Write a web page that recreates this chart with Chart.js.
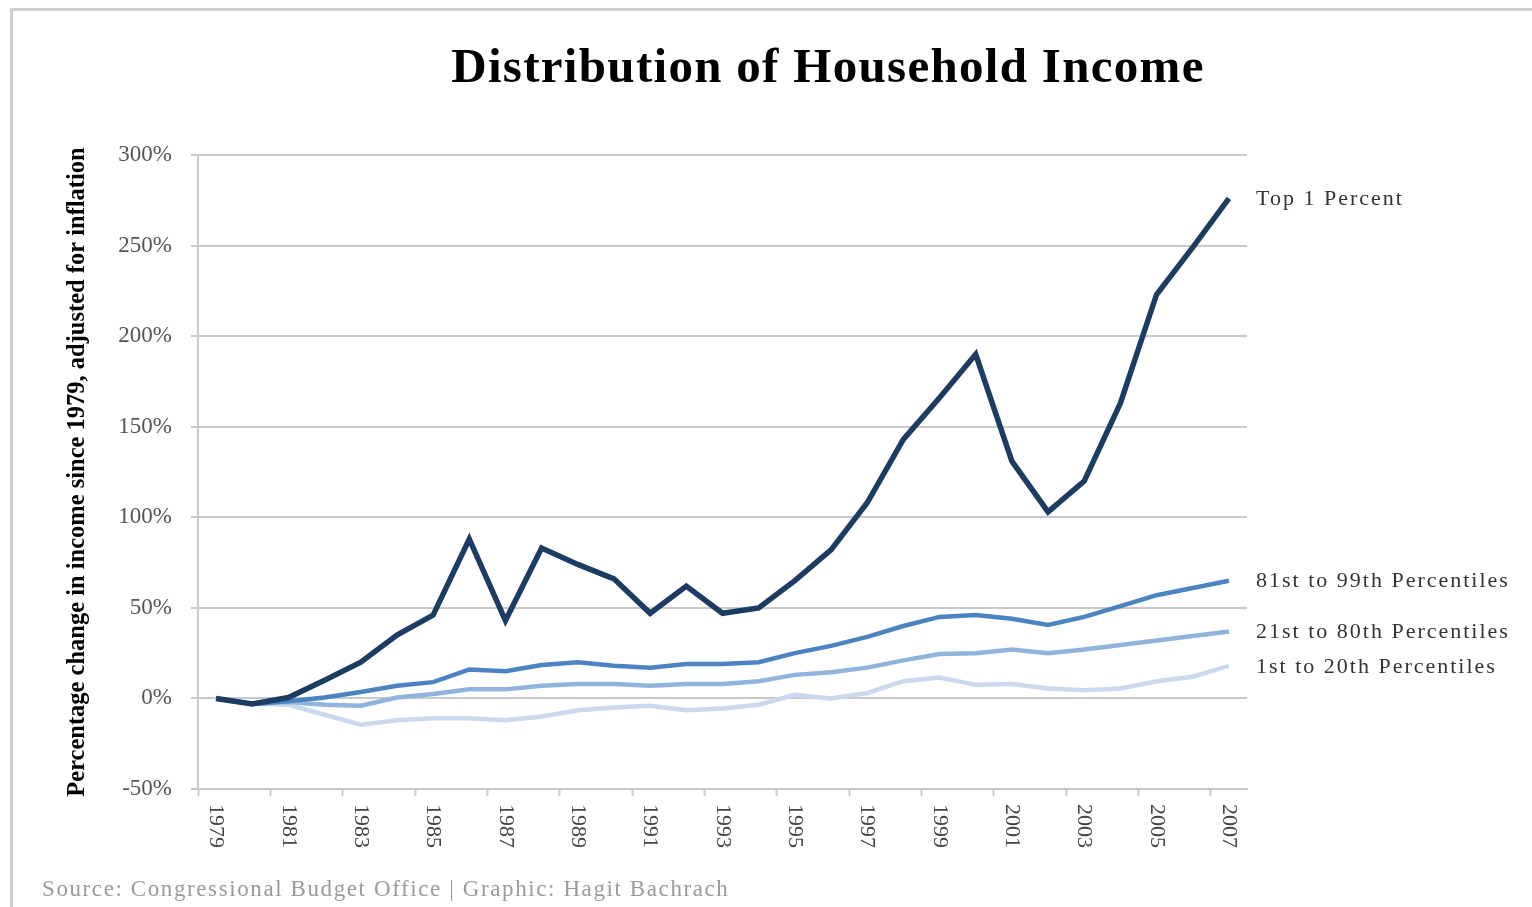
<!DOCTYPE html>
<html>
<head>
<meta charset="utf-8">
<title>Distribution of Household Income</title>
<script src="https://cdn.jsdelivr.net/npm/chart.js@4"></script>
<style>
  html, body { margin: 0; padding: 0; background: #fff; }
  canvas { display: block; }
</style>
</head>
<body>
<canvas id="chart" width="1532" height="907"></canvas>
<script>
const years = [1979, 1980, 1981, 1982, 1983, 1984, 1985, 1986, 1987, 1988, 1989, 1990, 1991, 1992,
  1993, 1994, 1995, 1996, 1997, 1998, 1999, 2000, 2001, 2002, 2003, 2004, 2005, 2006, 2007];

const top1 = [0, -3, 0.5, 10, 20, 35, 46, 88, 43, 83, 74, 66, 47, 62, 47, 50, 65, 82, 108, 143,
  166, 190, 131, 103, 120, 163, 223, 249, 276];
const pct81to99 = [0, -3, -1.5, 0.5, 3.5, 7, 9, 16, 15, 18.5, 20, 18, 17, 19, 19, 20, 25, 29, 34, 40,
  45, 46, 44, 40.5, 45, 51, 57, 61, 65];
const pct21to80 = [0, -3, -2, -3.5, -4, 0.5, 2.5, 5, 5, 7, 8, 8, 7, 8, 8, 9.5, 13, 14.5, 17, 21,
  24.5, 25, 27, 25, 27, 29.5, 32, 34.5, 37];
const pct1to20 = [0, -3, -3.5, -9, -14.5, -12, -11, -11, -12, -10, -6.5, -5, -4, -6.5, -5.5, -3.5, 2, 0, 3, 9.5,
  11.5, 7.5, 8, 5.5, 4.5, 5.5, 9.5, 12, 18];

const seriesNames = ['Top 1 Percent', '81st to 99th Percentiles', '21st to 80th Percentiles', '1st to 20th Percentiles'];
const yTicks = [-50, 0, 50, 100, 150, 200, 250, 300];

const SERIF = '"Liberation Serif", "Times New Roman", serif';
const GRID = '#c9c9c9';

// frame, title, source line and the labels at the end of each line
const annotations = {
  id: 'annotations',
  beforeDraw(chart) {
    const ctx = chart.ctx;
    ctx.save();
    ctx.fillStyle = '#fff';
    ctx.fillRect(0, 0, chart.width, chart.height);
    ctx.strokeStyle = '#cfcfcf';
    ctx.lineWidth = 3;
    ctx.strokeRect(11.5, 9.5, chart.width + 50, chart.height + 50);
    ctx.restore();
  },
  afterDatasetsDraw(chart) {
    const ctx = chart.ctx;
    const area = chart.chartArea;
    ctx.save();
    ctx.fillStyle = '#000';
    ctx.font = 'bold 49px ' + SERIF;
    ctx.textAlign = 'center';
    ctx.textBaseline = 'alphabetic';
    ctx.letterSpacing = '1.3px';
    ctx.fillText('Distribution of Household Income', 828, 82);

    ctx.fillStyle = '#9a9a9a';
    ctx.font = '23px ' + SERIF;
    ctx.textAlign = 'left';
    ctx.letterSpacing = '1.6px';
    ctx.fillText('Source: Congressional Budget Office | Graphic: Hagit Bachrach', 42, 896);

    ctx.fillStyle = '#333';
    ctx.font = '22px ' + SERIF;
    ctx.textBaseline = 'middle';
    ctx.letterSpacing = '2px';
    chart.data.datasets.forEach((ds, i) => {
      const meta = chart.getDatasetMeta(i);
      const last = meta.data[meta.data.length - 1];
      ctx.fillText(ds.label, area.right + 9, last.y + 1);
    });
    ctx.restore();
  }
};

new Chart(document.getElementById('chart'), {
  type: 'line',
  data: {
    labels: years,
    datasets: [
      { label: seriesNames[0], data: top1, borderColor: '#1d3c63', borderWidth: 5.5 },
      { label: seriesNames[1], data: pct81to99, borderColor: '#4c84c2', borderWidth: 4.5 },
      { label: seriesNames[2], data: pct21to80, borderColor: '#90b4de', borderWidth: 4.5 },
      { label: seriesNames[3], data: pct1to20, borderColor: '#cad9ee', borderWidth: 4.5 }
    ]
  },
  options: {
    responsive: false,
    animation: false,
    layout: { padding: { top: 155, right: 285, bottom: 0, left: 50 } },
    elements: {
      point: { radius: 0, hoverRadius: 0 },
      line: { tension: 0, fill: false }
    },
    plugins: {
      legend: { display: false },
      title: { display: false },
      tooltip: { enabled: false }
    },
    scales: {
      x: {
        type: 'category',
        offset: true,
        afterFit: (scale) => { scale.height = 118; },
        border: { display: true, color: GRID, width: 2 },
        grid: {
          display: true,
          offset: true,
          drawOnChartArea: false,
          drawTicks: true,
          tickLength: 7,
          tickWidth: 2,
          tickColor: (c) => (c.index % 2 === 0 ? GRID : 'rgba(0,0,0,0)')
        },
        ticks: {
          autoSkip: false,
          minRotation: -90,
          maxRotation: -90,
          padding: 52,
          color: '#444',
          font: { family: SERIF, size: 22 },
          callback: (v, i) => (i % 2 === 0 ? String(years[i]) : '')
        }
      },
      y: {
        min: -50,
        max: 300,
        afterFit: (scale) => { scale.width = 148; },
        afterBuildTicks: (scale) => { scale.ticks = yTicks.map(v => ({ value: v })); },
        border: { display: true, color: GRID, width: 2 },
        grid: { color: GRID, lineWidth: 2, tickLength: 7, drawTicks: true },
        ticks: {
          padding: 19,
          color: '#555',
          font: { family: SERIF, size: 23 },
          callback: (v) => v + '%'
        },
        title: {
          display: true,
          text: 'Percentage change in income since 1979, adjusted for inflation',
          color: '#000',
          padding: { top: 13, bottom: 0 },
          font: { family: SERIF, size: 24.5, weight: 'bold' }
        }
      }
    }
  },
  plugins: [annotations]
});
</script>
</body>
</html>
